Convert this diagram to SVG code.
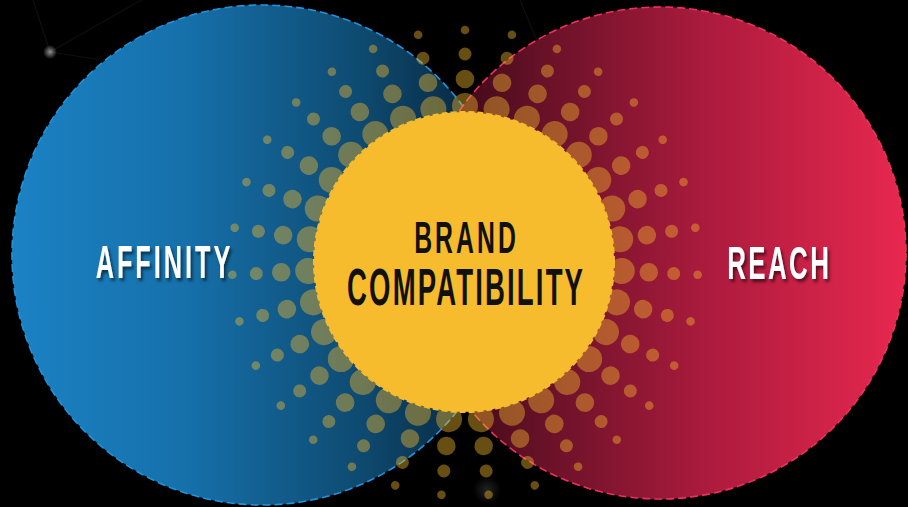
<svg xmlns="http://www.w3.org/2000/svg" xmlns:xlink="http://www.w3.org/1999/xlink" width="908" height="507" viewBox="0 0 908 507">
<style>
.dot{fill:#f6bb2d;fill-opacity:0.42}
.lbl{font-family:"Liberation Sans","DejaVu Sans",Arial,sans-serif;font-weight:bold;text-anchor:middle}
.white{fill:#ffffff}
.dark{fill:#111111}
.net{stroke:#ffffff;stroke-opacity:0.06;stroke-width:1.2;fill:none}
</style>
<defs>
<linearGradient id="gBlue" x1="12" y1="0" x2="512" y2="0" gradientUnits="userSpaceOnUse">
<stop offset="0" stop-color="#1b82c4"/>
<stop offset="0.35" stop-color="#1670aa"/>
<stop offset="0.7" stop-color="#0e4a70"/>
<stop offset="1" stop-color="#061d30"/>
</linearGradient>
<linearGradient id="gRed" x1="415" y1="0" x2="907" y2="0" gradientUnits="userSpaceOnUse">
<stop offset="0" stop-color="#2a0610"/>
<stop offset="0.25" stop-color="#661127"/>
<stop offset="0.6" stop-color="#ad1b3d"/>
<stop offset="1" stop-color="#e8284f"/>
</linearGradient>
<radialGradient id="glow">
<stop offset="0" stop-color="#ffffff" stop-opacity="0.55"/>
<stop offset="1" stop-color="#ffffff" stop-opacity="0"/>
</radialGradient>
<filter id="shadow" x="-10%" y="-20%" width="130%" height="150%">
<feDropShadow dx="2" dy="3" stdDeviation="1.5" flood-color="#000000" flood-opacity="0.55"/>
</filter>
<g id="ray">
<circle class="dot" cx="157" cy="0" r="13"/>
<circle class="dot" cx="184" cy="0" r="9.3"/>
<circle class="dot" cx="209" cy="0" r="6.5"/>
<circle class="dot" cx="233" cy="0" r="4.3"/>
</g>
</defs>
<rect width="908" height="507" fill="#000000"/>
<g id="background-network">
<path class="net" d="M50,52 L33,0 M50,52 L150,-5 M50,52 L115,62"/>
<path class="net" d="M520,0 L545,60 M560,140 L720,120"/>
<circle cx="50" cy="52" r="7" fill="url(#glow)"/>
<circle cx="487" cy="490" r="14" fill="url(#glow)" opacity="0.25"/>
</g>
<g id="affinity">
<circle cx="262" cy="255" r="250" fill="url(#gBlue)" stroke="#2492da" stroke-width="1.6" stroke-dasharray="8 4"/>
</g>
<g id="reach">
<circle cx="660" cy="253" r="246" fill="url(#gRed)" stroke="#f0305a" stroke-width="1.6" stroke-dasharray="8 4"/>
</g>
<g id="halftone" transform="translate(465,263)">
<use xlink:href="#ray" transform="rotate(270)"/>
<use xlink:href="#ray" transform="rotate(281.61)"/>
<use xlink:href="#ray" transform="rotate(293.23)"/>
<use xlink:href="#ray" transform="rotate(304.84)"/>
<use xlink:href="#ray" transform="rotate(316.45)"/>
<use xlink:href="#ray" transform="rotate(328.06)"/>
<use xlink:href="#ray" transform="rotate(339.68)"/>
<use xlink:href="#ray" transform="rotate(351.29)"/>
<use xlink:href="#ray" transform="rotate(2.90)"/>
<use xlink:href="#ray" transform="rotate(14.52)"/>
<use xlink:href="#ray" transform="rotate(26.13)"/>
<use xlink:href="#ray" transform="rotate(37.74)"/>
<use xlink:href="#ray" transform="rotate(49.35)"/>
<use xlink:href="#ray" transform="rotate(60.97)"/>
<use xlink:href="#ray" transform="rotate(72.58)"/>
<use xlink:href="#ray" transform="rotate(84.19)"/>
<use xlink:href="#ray" transform="rotate(95.81)"/>
<use xlink:href="#ray" transform="rotate(107.42)"/>
<use xlink:href="#ray" transform="rotate(119.03)"/>
<use xlink:href="#ray" transform="rotate(130.65)"/>
<use xlink:href="#ray" transform="rotate(142.26)"/>
<use xlink:href="#ray" transform="rotate(153.87)"/>
<use xlink:href="#ray" transform="rotate(165.48)"/>
<use xlink:href="#ray" transform="rotate(177.10)"/>
<use xlink:href="#ray" transform="rotate(188.71)"/>
<use xlink:href="#ray" transform="rotate(200.32)"/>
<use xlink:href="#ray" transform="rotate(211.94)"/>
<use xlink:href="#ray" transform="rotate(223.55)"/>
<use xlink:href="#ray" transform="rotate(235.16)"/>
<use xlink:href="#ray" transform="rotate(246.77)"/>
<use xlink:href="#ray" transform="rotate(258.39)"/>
</g>
<g id="brand-compatibility">
<circle cx="464" cy="262" r="150" fill="#f7bc2e" stroke="#f7bc2e" stroke-width="2" stroke-dasharray="6 3"/>
<text class="lbl dark" transform="translate(465,253) scale(0.55,1)" x="0" y="0" font-size="45" textLength="185" lengthAdjust="spacing">BRAND</text>
<text class="lbl dark" transform="translate(465,305) scale(0.54,1)" x="0" y="0" font-size="51" textLength="437" lengthAdjust="spacing">COMPATIBILITY</text>
</g>
<g id="labels" filter="url(#shadow)">
<text class="lbl white" transform="translate(163,278) scale(0.55,1)" x="0" y="0" font-size="46" textLength="245" lengthAdjust="spacing">AFFINITY</text>
<text class="lbl white" transform="translate(778,279) scale(0.55,1)" x="0" y="0" font-size="47" textLength="185" lengthAdjust="spacing">REACH</text>
</g>
<g id="connectors"/>
</svg>
